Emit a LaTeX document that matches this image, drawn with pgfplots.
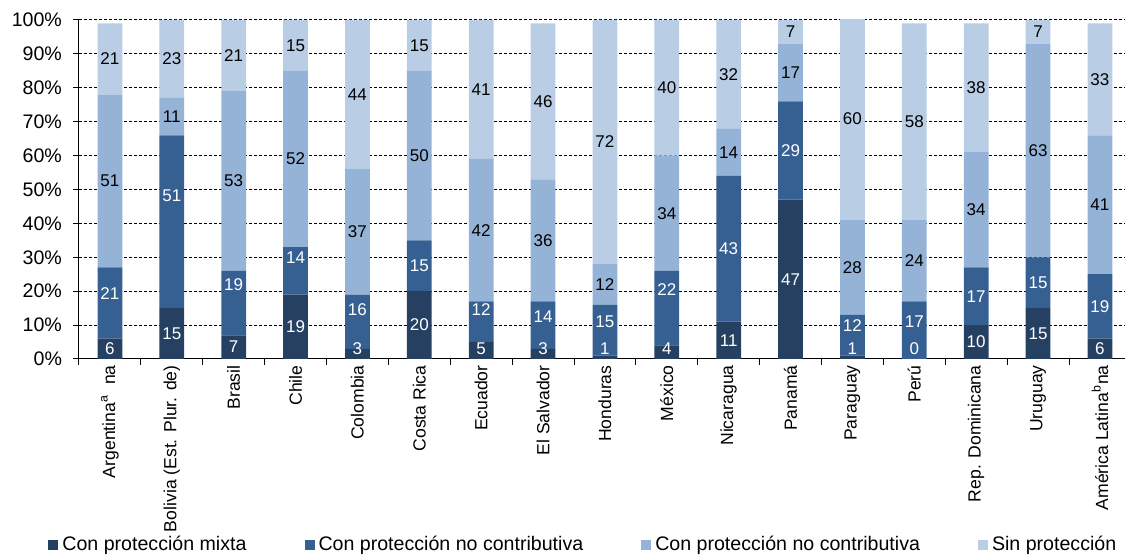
\documentclass[border=0pt]{standalone}
\usepackage{fontspec}
\setmainfont{Liberation Sans}
\usepackage{pgfplots}
\usepackage{pgfplotstable}
\pgfplotsset{compat=1.18}

\definecolor{mixta}{HTML}{254061}
\definecolor{nocontrib}{HTML}{376092}
\definecolor{contrib}{HTML}{95B3D7}
\definecolor{sinprot}{HTML}{B9CDE5}

% Shares (%) by country: m = mixed, n = non-contributory,
% c = contributory, s = without protection;
% lift = upward nudge of the n label, in percentage points
\pgfplotstableread{
x   m   n   c   s   lift
0   6   21  51  21  2.9
1   15  51  11  23  7.7
2   7   19  53  21  5.5
3   19  14  52  15  3.8
4   3   16  37  44  3.5
5   20  15  50  15  0
6   5   12  42  41  3.5
7   3   14  36  46  2.5
8   1   15  12  72  2.4
9   4   22  34  40  5.6
10  11  43  14  32  0
11  47  29  17  7   0
12  1   12  28  60  2.8
13  0   17  24  58  2.5
14  10  17  34  38  0
15  15  15  63  7   0
16  6   19  41  33  0
}\shares

\pgfplotsset{
  frame/.style={
    at={(39.5pt,98.5pt)}, anchor=south west,
    scale only axis, width=523pt, height=169.5pt,
    xmin=-0.5, xmax=16.405, ymin=0, ymax=100,
    /pgf/number format/assume math mode=true,
  },
  sqlegend/.style={legend image code/.code={\fill[##1] (0pt,-2.5pt) rectangle (5pt,2.5pt);}},
  % value printed in the middle of its segment
  seglabel/.style={draw=none, mark=none, nodes near coords, point meta=explicit,
    every node near coord/.append style={anchor=center, inner sep=0pt,
      font=\fontsize{8.5}{9}\selectfont, text=#1}},
}

\begin{document}
\begin{tikzpicture}
% stacked bars
\begin{axis}[
  frame,
  ybar stacked, bar width=12.4pt,
  axis x line*=bottom, axis y line*=left,
  axis line style={black, line width=0.5pt},
  tick align=outside,
  major tick length=3pt, minor tick length=3pt,
  tick style={black, line width=0.5pt},
  xtick={0,...,16},
  minor xtick={-0.5,0.5,...,15.5},
  every major x tick/.style={draw=none},
  xticklabels={
    {Argentina\textsuperscript{a}\hspace{5pt}na},
    {Bolivia (Est. Plur. de)},
    {Brasil}, {Chile}, {Colombia}, {Costa Rica}, {Ecuador},
    {El Salvador}, {Honduras}, {México}, {Nicaragua}, {Panamá},
    {Paraguay}, {Perú}, {Rep. Dominicana}, {Uruguay},
    {América Latina\textsuperscript{b}na}},
  x tick label style={rotate=90, anchor=east, inner sep=0pt,
    font=\fontsize{8.8}{10}\selectfont},
  ytick={0,10,...,100},
  yticklabel={\pgfmathprintnumber{\tick}\%},
  y tick label style={font=\fontsize{9.8}{11}\selectfont, xshift=-2pt},
  ymajorgrids,
  major grid style={black, line width=0.5pt, dash pattern=on 1.5pt off 1pt},
  legend columns=4,
  legend style={draw=none, fill=none, inner sep=0pt,
    at={(-0.0296,-0.5487)}, anchor=west,
    font=\fontsize{9.8}{12}\selectfont,
    /tikz/every even column/.append style={column sep=27pt}},
]
\addplot[fill=mixta, draw=none, sqlegend] table[x=x, y=m] {\shares};
\addplot[fill=nocontrib, draw=none, sqlegend] table[x=x, y=n] {\shares};
\addplot[fill=contrib, draw=none, sqlegend] table[x=x, y=c] {\shares};
\addplot[fill=sinprot, draw=none, sqlegend] table[x=x, y=s] {\shares};
\legend{Con protección mixta, Con protección no contributiva,
  Con protección no contributiva, Sin protección}
\end{axis}
% segment values on top of the bars
\begin{axis}[frame, hide axis, clip=false]
\addplot[seglabel=white]
  table[x=x, y expr={max(\thisrow{m}/2,3.1)}, meta=m] {\shares};
\addplot[seglabel=white]
  table[x=x, y expr={\thisrow{m}+\thisrow{n}/2+\thisrow{lift}}, meta=n] {\shares};
\addplot[seglabel=black]
  table[x=x, y expr={\thisrow{m}+\thisrow{n}+\thisrow{c}/2}, meta=c] {\shares};
\addplot[seglabel=black]
  table[x=x, y expr={\thisrow{m}+\thisrow{n}+\thisrow{c}+\thisrow{s}/2}, meta=s] {\shares};
\end{axis}
\pgfresetboundingbox
\path[use as bounding box] (0,0) rectangle (562.5pt,278pt);
\end{tikzpicture}
\end{document}
